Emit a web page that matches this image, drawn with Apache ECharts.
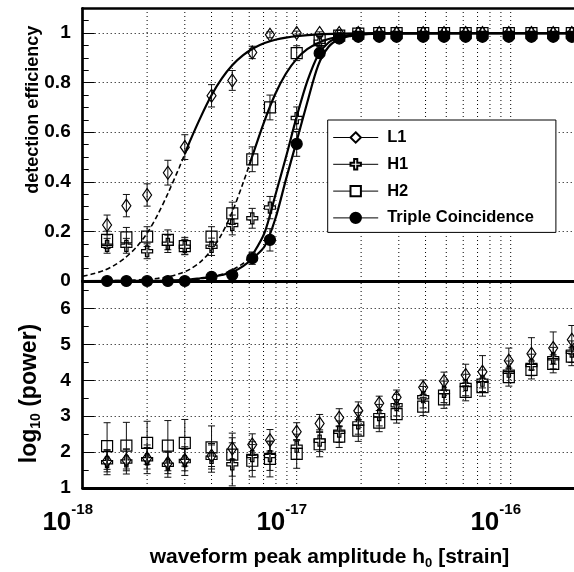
<!DOCTYPE html>
<html><head><meta charset="utf-8">
<script src="https://cdn.jsdelivr.net/npm/echarts@6/dist/echarts.min.js"></script>
<style>html,body{margin:0;padding:0;background:#fff}#c{width:574px;height:572px}</style>
</head><body><div id="c"></div>
<script>
const FONT = '"Liberation Sans", Arial, Helvetica, sans-serif';
// amplitudes in units of 10^-18 strain
const H_EXP = -18;
const amp = [1.3,1.6,2.0,2.5,3.0,4.0,5.0,6.2,7.5,10,12.8,15.8,19.4,24.3,29.3,39,48.8,61.6,73.8,98,125,158,193];

// detection efficiency
const effL1  = [0.226,0.304,0.347,0.437,0.540,0.747,0.809,0.922,0.993,1.0,1.0,1.0,1.0,1.0,1.0,1.0,1.0,1.0,1.0,1.0,1.0,1.0,1.0];
const errL1  = [0.04,0.045,0.045,0.05,0.05,0.045,0.04,0.025,0.012,0.008,0.005,0.004,0.003,0.003,0.003,0.003,0.003,0.003,0.003,0.003,0.003,0.003,0.003];
const effH1  = [0.142,0.142,0.120,0.150,0.138,0.138,0.226,0.253,0.296,0.657,0.965,0.99,1.0,1.0,1.0,1.0,1.0,1.0,1.0,1.0,1.0,1.0,1.0];
const errH1  = [0.03,0.03,0.03,0.035,0.03,0.035,0.04,0.04,0.045,0.045,0.02,0.01,0.005,0.003,0.003,0.003,0.003,0.003,0.003,0.003,0.003,0.003,0.003];
const effH2  = [0.166,0.176,0.179,0.166,0.141,0.179,0.273,0.491,0.700,0.919,0.972,0.99,0.998,1.0,1.0,1.0,1.0,1.0,1.0,1.0,1.0,1.0,1.0];
const errH2  = [0.035,0.04,0.04,0.04,0.035,0.04,0.045,0.05,0.05,0.03,0.015,0.01,0.005,0.003,0.003,0.003,0.003,0.003,0.003,0.003,0.003,0.003,0.003];
const effTri = [0,0,0,0,0,0.017,0.024,0.092,0.166,0.553,0.919,0.978,0.985,0.985,0.985,0.985,0.985,0.985,0.985,0.985,0.985,0.985,0.985];
const errTri = [0,0,0,0,0,0.005,0.008,0.025,0.045,0.05,0.02,0.01,0.005,0.003,0.003,0.003,0.003,0.003,0.003,0.003,0.003,0.003,0.003];

// fitted efficiency curves: [amplitude (1e-18), efficiency]
const fitL1Dash  = [[1.0,0.019],[1.12,0.029],[1.26,0.043],[1.41,0.064],[1.58,0.094],[1.78,0.136],[2.0,0.193],[2.24,0.267],[2.51,0.356],[2.82,0.456],[3.0,0.512]];
const fitL1Solid = [[3.0,0.512],[3.16,0.561],[3.55,0.659],[3.98,0.746],[4.47,0.817],[5.01,0.871],[5.62,0.911],[6.31,0.94],[7.08,0.96],[7.94,0.973],[8.91,0.982],[10,0.988],[12.6,0.995],[15.8,0.998],[20,0.999],[31.6,1.0],[260,1.0]];
const fitH2Dash  = [[1.0,0.0003],[1.58,0.0023],[2.0,0.0063],[2.24,0.0106],[2.51,0.0175],[2.82,0.029],[3.16,0.047],[3.55,0.077],[3.98,0.123],[4.47,0.19],[5.01,0.281],[5.62,0.396],[6.0,0.467]];
const fitH2Solid = [[6.0,0.467],[6.31,0.523],[7.08,0.647],[7.94,0.754],[8.91,0.837],[10,0.896],[11.2,0.935],[12.6,0.96],[14.1,0.976],[15.8,0.985],[20,0.995],[25.1,0.998],[31.6,0.9995],[260,1.0]];
const fitH1Dash  = [[1.0,0.0],[2.51,0.0015],[3.16,0.005],[3.55,0.009],[3.98,0.016],[4.47,0.027],[5.01,0.045],[5.62,0.071],[6.0,0.095],[6.31,0.115]];
const fitH1Solid = [[6.31,0.115],[7.08,0.195],[7.94,0.345],[8.91,0.50],[10,0.663],[11.2,0.805],[12.6,0.912],[14.1,0.962],[15.8,0.983],[17.8,0.992],[20,0.996],[25.1,0.999],[260,1.0]];
const fitTriple  = [[1.0,0.0],[2.0,0.0005],[2.51,0.002],[3.16,0.006],[3.55,0.011],[3.98,0.016],[4.47,0.024],[5.01,0.036],[5.62,0.06],[6.31,0.095],[7.08,0.14],[7.94,0.25],[8.91,0.41],[10,0.565],[11.2,0.72],[12.6,0.87],[14.1,0.945],[15.8,0.975],[17.8,0.988],[20,0.995],[25.1,0.999],[260,1.0]];

// log10(power)
const powL1  = [1.75,1.78,1.83,1.70,1.78,1.90,2.10,2.21,2.33,2.57,2.80,2.96,3.15,3.36,3.53,3.81,3.98,4.15,4.24,4.55,4.74,4.90,5.13];
const perrL1 = [0.3,0.3,0.3,0.3,0.3,0.3,0.3,0.3,0.3,0.25,0.25,0.25,0.25,0.2,0.2,0.2,0.25,0.3,0.45,0.35,0.45,0.45,0.4];
const powH1  = [1.72,1.74,1.80,1.65,1.75,1.84,1.66,1.89,1.89,2.15,2.32,2.57,2.80,3.03,3.31,3.53,3.68,3.87,3.99,4.24,4.43,4.62,4.80];
const perrH1 = [0.35,0.35,0.4,0.35,0.4,0.4,0.6,0.4,0.4,0.35,0.3,0.3,0.3,0.3,0.3,0.3,0.3,0.3,0.3,0.3,0.3,0.3,0.3];
const powH2  = [2.17,2.18,2.26,2.18,2.26,2.13,1.93,1.76,1.81,1.95,2.22,2.43,2.60,2.82,3.06,3.27,3.47,3.68,3.81,4.09,4.29,4.46,4.66];
const perrH2 = [0.65,0.65,0.6,0.7,0.65,0.6,0.6,0.45,0.5,0.4,0.35,0.3,0.3,0.25,0.25,0.25,0.25,0.25,0.25,0.25,0.25,0.25,0.25];

// vertical grid lines (amplitude, 1e-18) and decade tick labels (exponents)
const gridAmps = [2,3,4,5,6,7,8,9,10,20,30,40,50,60,70,80,90,100,200];
const xTickExps = [-18,-17,-16];

const toX = a => Math.log10(a) + H_EXP;
const pts = (ys) => amp.map((a,i) => [toX(a), ys[i]]);
const errPts = (ys, es) => amp.map((a,i) => [toX(a), ys[i], es[i]]);
const curve = (arr) => arr.map(p => [toX(p[0]), p[1]]);

const X_MIN = -18, X_MAX = -15.6;
const GL = 82.7, PX_PER_DEC = 214;
const gridW = (X_MAX - X_MIN) * PX_PER_DEC;

const BLACK = '#000';
const SYM = {
  L1: {symbol:'diamond', size:[9,13]},
  H1: {symbol:'path://M3.5,0H6.5V3.5H10V6.5H6.5V10H3.5V6.5H0V3.5H3.5Z', size:11},
  H2: {symbol:'rect', size:11},
  Tri:{symbol:'circle', size:11}
};

function gridSeries(xi, yi, y0, y1) {
  return {
    type:'custom', xAxisIndex:xi, yAxisIndex:yi, silent:true, z:1,
    data: gridAmps.map(a => [toX(a)]),
    encode:{x:0},
    renderItem:(params, api) => {
      const x = api.value(0);
      const p1 = api.coord([x, y0]), p2 = api.coord([x, y1]);
      return {type:'line', shape:{x1:p1[0], y1:p1[1], x2:p2[0], y2:p2[1]},
        style:{stroke:BLACK, lineWidth:1, lineDash:[1,3]}};
    }
  };
}
function errSeries(xi, yi, data) {
  return {
    type:'custom', xAxisIndex:xi, yAxisIndex:yi, silent:true, z:4, clip:true,
    data, encode:{x:0, y:1},
    renderItem:(params, api) => {
      const x = api.value(0), y = api.value(1), e = api.value(2);
      if (!(e > 0)) return null;
      const lo = api.coord([x, y - e]), hi = api.coord([x, y + e]);
      if (Math.abs(lo[1]-hi[1]) < 2) return null;
      const c = 3.5;
      const st = {stroke:'#111', lineWidth:1};
      return {type:'group', children:[
        {type:'line', shape:{x1:lo[0], y1:lo[1], x2:hi[0], y2:hi[1]}, style:st},
        {type:'line', shape:{x1:lo[0]-c, y1:lo[1], x2:lo[0]+c, y2:lo[1]}, style:st},
        {type:'line', shape:{x1:hi[0]-c, y1:hi[1], x2:hi[0]+c, y2:hi[1]}, style:st}
      ]};
    }
  };
}
function markSeries(name, xi, yi, data, sym, filled) {
  return {
    name, type:'line', xAxisIndex:xi, yAxisIndex:yi, data, z:5,
    symbol:sym.symbol, symbolSize:sym.size, showSymbol:true, showAllSymbol:true,
    lineStyle:{opacity:0, width:1},
    itemStyle:{color: filled ? BLACK : 'rgba(0,0,0,0)', borderColor:BLACK, borderWidth:1.2},
    emphasis:{disabled:true}, silent:true
  };
}
function fitSeries(data, dashed) {
  return {
    type:'line', xAxisIndex:0, yAxisIndex:0, data:curve(data), z:3,
    smooth:0.3, showSymbol:false, symbol:'none', silent:true,
    lineStyle:{color:BLACK, width: dashed ? 1.6 : 2.2, type: dashed ? [5,3] : 'solid'}
  };
}

const axisLineStyle = (w) => ({show:true, onZero:false, lineStyle:{color:BLACK, width:w}});
const yLabel = {margin:12, fontSize:19, fontWeight:'bold', color:BLACK, fontFamily:FONT, showMaxLabel:false, showMinLabel:true};

const option = {
  animation:false,
  backgroundColor:'#fff',
  grid:[
    {left:GL, top:8.3, width:gridW, height:272.7, outerBoundsMode:'none', containLabel:false},
    {left:GL, top:281, width:gridW, height:207, outerBoundsMode:'none', containLabel:false}
  ],
  xAxis:[
    {gridIndex:0, type:'value', min:X_MIN, max:X_MAX, position:'bottom', axisLine:axisLineStyle(3),
      axisTick:{show:false}, axisLabel:{show:false}, splitLine:{show:false}},
    {gridIndex:0, type:'value', min:X_MIN, max:X_MAX, position:'top', axisLine:axisLineStyle(2.7),
      axisTick:{show:false}, axisLabel:{show:false}, splitLine:{show:false}},
    {gridIndex:1, type:'value', min:X_MIN, max:X_MAX, interval:1, position:'bottom', axisLine:axisLineStyle(3),
      axisTick:{show:false}, splitLine:{show:false},
      axisLabel:{margin:14, showMaxLabel:false, showMinLabel:true, padding:[0,30,0,0],
        formatter: v => xTickExps.includes(Math.round(v)) ? '{b|10}{s|' + Math.round(v) + '}' : '',
        rich:{
          b:{fontSize:26, fontWeight:'bold', fontFamily:FONT, color:BLACK, lineHeight:34, verticalAlign:'bottom'},
          s:{fontSize:15, fontWeight:'bold', fontFamily:FONT, color:BLACK, lineHeight:15, verticalAlign:'top'}
        }},
      name:'{a|waveform peak amplitude h}{s|0}{a| [strain]}', nameLocation:'middle', nameGap:56,
      nameTextStyle:{padding:[0,20,0,0], rich:{
        a:{fontSize:21, fontWeight:'bold', fontFamily:FONT, color:BLACK, lineHeight:26},
        s:{fontSize:13, fontWeight:'bold', fontFamily:FONT, color:BLACK, lineHeight:13, verticalAlign:'bottom'}
      }}}
  ],
  yAxis:[
    {gridIndex:0, type:'value', min:0, max:1.1, interval:0.2, axisLine:axisLineStyle(2.7),
      axisTick:{show:true, inside:true, length:12, lineStyle:{color:BLACK, width:1}},
      minorTick:{show:true, splitNumber:4, length:6, lineStyle:{color:BLACK, width:1}},
      axisLabel:yLabel,
      splitLine:{show:true, lineStyle:{color:BLACK, width:1, type:[1,3]}},
      name:'detection efficiency', nameLocation:'middle', nameGap:41, nameMoveOverlap:false,
      nameTextStyle:{fontSize:18, fontWeight:'bold', fontFamily:FONT, color:BLACK, padding:[0,0,0,70]}},
    {gridIndex:1, type:'value', min:1, max:6.77, interval:1, axisLine:axisLineStyle(2.7),
      axisTick:{show:true, inside:true, length:12, lineStyle:{color:BLACK, width:1}},
      minorTick:{show:true, splitNumber:2, length:6, lineStyle:{color:BLACK, width:1}},
      axisLabel:yLabel,
      splitLine:{show:true, lineStyle:{color:BLACK, width:1, type:[1,3]}},
      name:'{a|log}{s|10}{a| (power)}', nameLocation:'middle', nameGap:40, nameMoveOverlap:false,
      nameTextStyle:{padding:[0,18,0,0], rich:{
        a:{fontSize:23, fontWeight:'bold', fontFamily:FONT, color:BLACK, lineHeight:27},
        s:{fontSize:14, fontWeight:'bold', fontFamily:FONT, color:BLACK, lineHeight:14, verticalAlign:'bottom'}
      }}}
  ],
  legend:{
    data:[
      {name:'L1', itemStyle:{color:'#fff'}},
      {name:'H1', itemStyle:{color:'#fff'}},
      {name:'H2', itemStyle:{color:'#fff'}},
      {name:'Triple Coincidence'}
    ],
    orient:'vertical', left:327.7, top:120,
    itemWidth:45, itemHeight:13, itemGap:9.8, padding:[9,22,6,5],
    borderColor:BLACK, borderWidth:1, backgroundColor:'#fff', selectedMode:false,
    textStyle:{fontSize:16.5, fontWeight:'bold', fontFamily:FONT, color:BLACK, lineHeight:16, padding:[0,0,0,4]},
    lineStyle:{color:BLACK, width:1, opacity:1}
  },
  series:[
    gridSeries(0, 0, 0, 1.1),
    gridSeries(2, 1, 1, 6.77),
    fitSeries(fitL1Dash, true), fitSeries(fitL1Solid, false),
    fitSeries(fitH2Dash, true), fitSeries(fitH2Solid, false),
    fitSeries(fitH1Dash, true), fitSeries(fitH1Solid, false),
    fitSeries(fitTriple, false),
    errSeries(0, 0, errPts(effL1, errL1)),
    errSeries(0, 0, errPts(effH1, errH1)),
    errSeries(0, 0, errPts(effH2, errH2)),
    errSeries(0, 0, errPts(effTri, errTri)),
    markSeries('L1', 0, 0, pts(effL1), SYM.L1, false),
    markSeries('H1', 0, 0, pts(effH1), SYM.H1, false),
    markSeries('H2', 0, 0, pts(effH2), SYM.H2, false),
    markSeries('Triple Coincidence', 0, 0, pts(effTri), SYM.Tri, true),
    errSeries(2, 1, errPts(powL1, perrL1)),
    errSeries(2, 1, errPts(powH1, perrH1)),
    errSeries(2, 1, errPts(powH2, perrH2)),
    markSeries('L1', 2, 1, pts(powL1), SYM.L1, false),
    markSeries('H1', 2, 1, pts(powH1), SYM.H1, false),
    markSeries('H2', 2, 1, pts(powH2), SYM.H2, false)
  ]
};
const chart = echarts.init(document.getElementById('c'), null, {renderer:'canvas'});
chart.setOption(option);
</script></body></html>
